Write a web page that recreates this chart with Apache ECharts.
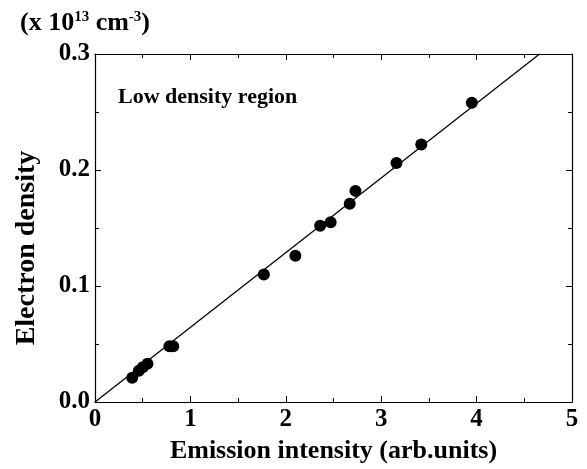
<!DOCTYPE html>
<html>
<head>
<meta charset="utf-8">
<script src="https://cdn.jsdelivr.net/npm/echarts@6/dist/echarts.min.js"></script>
<style>
  html, body { margin: 0; padding: 0; background: #fff; }
  #chart { width: 587px; height: 469px; }
</style>
</head>
<body>
<div id="chart"></div>
<script>
// measured points (emission intensity, electron density x1e13 cm^-3)
var intensity = [0.39, 0.46, 0.50, 0.55, 0.78, 0.82, 1.77, 2.10, 2.36, 2.47, 2.67, 2.73, 3.16, 3.42, 3.95];
var density = [0.021, 0.027, 0.030, 0.033, 0.048, 0.048, 0.110, 0.126, 0.152, 0.155, 0.171, 0.182, 0.206, 0.222, 0.258];
// fitted line end points
var fitX = [0, 4.66];
var fitY = [0, 0.3];

var font = "'Liberation Serif', 'DejaVu Serif', serif";

var points = intensity.map(function (x, i) { return [x, density[i]]; });
var fit = fitX.map(function (x, i) { return [x, fitY[i]]; });

var myChart = echarts.init(document.getElementById("chart"));
myChart.setOption({
  animation: false,
  backgroundColor: "#fff",
  grid: { left: 95, right: 15, top: 54, bottom: 67 },
  xAxis: [
    {
      type: "value",
      min: 0,
      max: 5,
      interval: 1,
      name: "Emission intensity (arb.units)",
      nameLocation: "middle",
      nameGap: 36,
      nameTextStyle: { fontFamily: font, fontWeight: "bold", fontSize: 26, color: "#000" },
      axisLine: { show: true, onZero: false, lineStyle: { color: "#000", width: 1.2 } },
      axisTick: { inside: true, length: 6, lineStyle: { color: "#000" } },
      minorTick: { show: true, splitNumber: 2, length: 4, lineStyle: { color: "#000" } },
      axisLabel: { fontFamily: font, fontWeight: "bold", fontSize: 25, color: "#000", margin: 5 },
      splitLine: { show: false }
    },
    {
      type: "value",
      position: "top",
      min: 0,
      max: 5,
      interval: 1,
      axisLine: { show: true, onZero: false, lineStyle: { color: "#000", width: 1.2 } },
      axisTick: { inside: true, length: 6, lineStyle: { color: "#000" } },
      minorTick: { show: true, splitNumber: 2, length: 4, lineStyle: { color: "#000" } },
      axisLabel: { show: false },
      splitLine: { show: false }
    }
  ],
  yAxis: [
    {
      type: "value",
      min: 0,
      max: 0.3,
      interval: 0.1,
      axisLine: { show: true, onZero: false, lineStyle: { color: "#000", width: 1.2 } },
      axisTick: { inside: true, length: 6, lineStyle: { color: "#000" } },
      minorTick: { show: true, splitNumber: 2, length: 4, lineStyle: { color: "#000" } },
      axisLabel: {
        fontFamily: font, fontWeight: "bold", fontSize: 25, color: "#000", margin: 5,
        formatter: function (v) { return v.toFixed(1); }
      },
      splitLine: { show: false }
    },
    {
      type: "value",
      position: "right",
      min: 0,
      max: 0.3,
      interval: 0.1,
      axisLine: { show: true, onZero: false, lineStyle: { color: "#000", width: 1.2 } },
      axisTick: { inside: true, length: 6, lineStyle: { color: "#000" } },
      minorTick: { show: true, splitNumber: 2, length: 4, lineStyle: { color: "#000" } },
      axisLabel: { show: false },
      splitLine: { show: false }
    }
  ],
  graphic: [
    {
      type: "text",
      left: 20,
      top: 10,
      style: {
        text: "(x 10{sup|13} cm{sup|-3})",
        font: "bold 26px " + font,
        fill: "#000",
        rich: {
          sup: { font: "bold 15px " + font, fill: "#000", verticalAlign: "top", padding: [0, 0, 12, 0] }
        }
      }
    },
    {
      // y-axis title, sits a bit below the plot centre in the original
      type: "text",
      x: 27,
      y: 248,
      rotation: Math.PI / 2,
      style: {
        text: "Electron density",
        font: "bold 28px " + font,
        fill: "#000",
        align: "center",
        verticalAlign: "middle"
      }
    },
    {
      type: "text",
      left: 118,
      top: 86,
      style: { text: "Low density region", font: "bold 22px " + font, fill: "#000" }
    }
  ],
  series: [
    {
      name: "fit",
      type: "line",
      data: fit,
      symbol: "none",
      lineStyle: { color: "#000", width: 1.3 },
      silent: true
    },
    {
      name: "data",
      type: "scatter",
      data: points,
      symbol: "circle",
      symbolSize: 12,
      itemStyle: { color: "#000", opacity: 1 }
    }
  ]
});
</script>
</body>
</html>
